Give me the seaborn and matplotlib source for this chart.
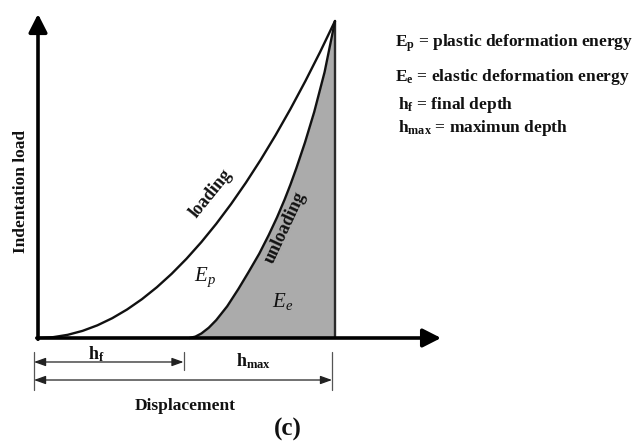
import numpy as np
import pandas as pd
import matplotlib
matplotlib.use("Agg")
import matplotlib.pyplot as plt
import seaborn as sns

# Normalised indentation curves (displacement / h_max, load / P_max)
loading_disp = [0.00, 0.05, 0.10, 0.15, 0.20, 0.25, 0.30, 0.35, 0.40, 0.45,
                0.50, 0.55, 0.60, 0.65, 0.70, 0.75, 0.80, 0.85, 0.90, 0.95, 1.00]
loading_load = [0.000, 0.0025, 0.010, 0.0225, 0.040, 0.0625, 0.090, 0.1225,
                0.160, 0.2025, 0.250, 0.3025, 0.360, 0.4225, 0.490, 0.5625,
                0.640, 0.7225, 0.810, 0.9025, 1.000]

unloading_disp = [0.510, 0.530, 0.550, 0.575, 0.600, 0.637, 0.675, 0.709,
                  0.745, 0.777, 0.805, 0.830, 0.850, 0.870, 0.899, 0.930,
                  0.965, 1.000]
unloading_load = [0.000, 0.0044, 0.0142, 0.0324, 0.0563, 0.100, 0.155, 0.208,
                  0.266, 0.325, 0.381, 0.436, 0.484, 0.536, 0.617, 0.713,
                  0.839, 1.000]

h_final = 0.49
h_max = 0.99

legend_lines = [
    r"E$_\mathrm{p}$ = plastic deformation energy",
    r"E$_\mathrm{e}$ = elastic deformation energy",
    r"h$_\mathrm{f}$ = final depth",
    r"h$_\mathrm{max}$ = maximun depth",
]

sns.set_theme(style="white")
plt.rcParams["font.family"] = ["Liberation Serif", "DejaVu Serif"]
plt.rcParams["mathtext.fontset"] = "custom"
plt.rcParams["mathtext.rm"] = "Liberation Serif:bold"
plt.rcParams["mathtext.bf"] = "Liberation Serif:bold"
plt.rcParams["mathtext.it"] = "Liberation Serif:italic"

fig = plt.figure(figsize=(6.44, 4.46), dpi=100)
ax = fig.add_axes([0, 0, 1, 1])

load_df = pd.DataFrame({"disp": loading_disp, "load": loading_load})
unload_df = pd.DataFrame({"disp": unloading_disp, "load": unloading_load})

# elastic energy area under the unloading branch
ax.fill_between(unload_df["disp"], unload_df["load"], 0, color="#ababab", lw=0)
ax.plot([1, 1], [0, 1], color="#2a2a2a", lw=1.7, solid_capstyle="butt")

sns.lineplot(data=load_df, x="disp", y="load", ax=ax, color="#111111", lw=1.7,
             sort=False, estimator=None)
sns.lineplot(data=unload_df, x="disp", y="load", ax=ax, color="#111111", lw=1.7,
             sort=False, estimator=None)
ax.set_xlim(-38 / 297, 606 / 297)
ax.set_ylim(-108 / 317, 338 / 317)
ax.axis("off")

# axes with arrow heads
axis_arrow = dict(arrowstyle="-|>,head_length=0.55,head_width=0.28", lw=2.6,
                  color="black", shrinkA=0, shrinkB=0, mutation_scale=20)
ax.annotate("", xy=(0, 1.022), xytext=(0, -0.004), arrowprops=axis_arrow,
            annotation_clip=False)
ax.annotate("", xy=(1.357, 0), xytext=(-0.004, 0), arrowprops=axis_arrow,
            annotation_clip=False)

# dimension lines for h_f and h_max
dim_arrow = dict(arrowstyle="<|-|>,head_length=0.5,head_width=0.18", lw=0.9,
                 color="#222222", shrinkA=0, shrinkB=0, mutation_scale=14)
x0 = -0.0135
ax.annotate("", xy=(h_final, -0.0757), xytext=(x0, -0.0757), arrowprops=dim_arrow)
ax.annotate("", xy=(h_max, -0.1325), xytext=(x0, -0.1325), arrowprops=dim_arrow)
ax.plot([x0, x0], [-0.044, -0.164], color="#555555", lw=0.9)
ax.plot([h_final, h_final], [-0.044, -0.101], color="#555555", lw=0.9)
ax.plot([h_max, h_max], [-0.044, -0.164], color="#555555", lw=0.9)

bold = dict(fontweight="bold", color="#111111")
ax.text(0.195, -0.050, r"h$_\mathrm{f}$", fontsize=13, ha="center", va="center", **bold)
ax.text(0.727, -0.074, r"h$_\mathrm{max}$", fontsize=13, ha="center", va="center", **bold)
ax.text(0.495, -0.215, "Displacement", fontsize=12.5, ha="center", va="center", **bold)
ax.text(0.842, -0.290, "(c)", fontsize=18, ha="center", va="center", **bold)
ax.text(-0.057, 0.461, "Indentation load", fontsize=12.5, rotation=90,
        ha="center", va="center", **bold)

ax.text(0.582, 0.457, "loading", fontsize=13, rotation=51, ha="center",
        va="center", **bold)
ax.text(0.832, 0.350, "unloading", fontsize=13, rotation=65, ha="center",
        va="center", **bold)
ax.text(0.562, 0.192, r"$E_p$", fontsize=15, ha="center", va="center", color="#111111")
ax.text(0.822, 0.114, r"$E_e$", fontsize=15, ha="center", va="center", color="#111111")

legend_x = [1.202, 1.202, 1.212, 1.212]
legend_y = [0.918, 0.811, 0.723, 0.650]
for lx, ly, txt in zip(legend_x, legend_y, legend_lines):
    ax.text(lx, ly, txt, fontsize=12.5, ha="left", va="baseline", **bold)

fig.savefig("out.png", dpi=100)
